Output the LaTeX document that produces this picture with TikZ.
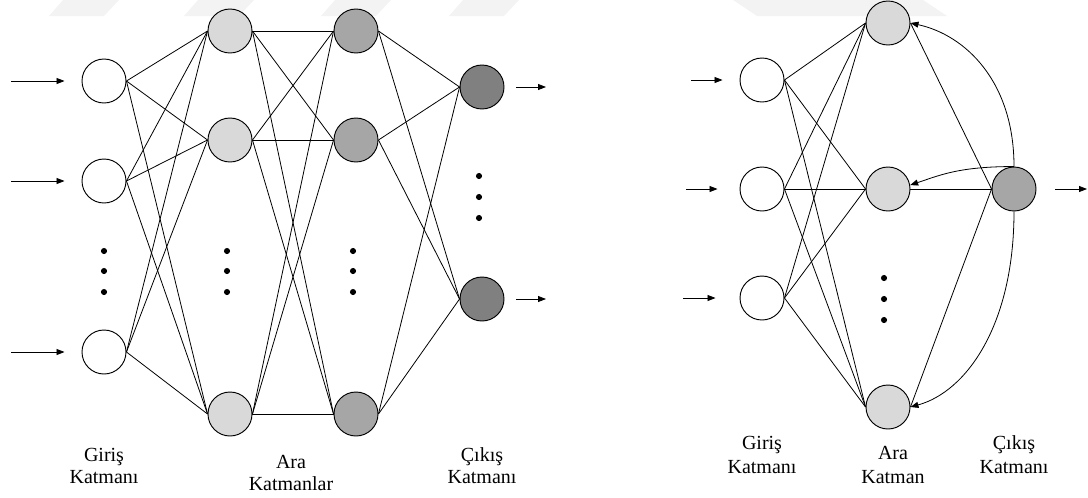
\documentclass[tikz,border=0pt]{standalone}
\usepackage{fontspec}
\setmainfont{Liberation Serif}
\usetikzlibrary{arrows.meta}
\definecolor{hidA}{HTML}{D9D9D9}
\definecolor{hidB}{HTML}{A6A6A6}
\definecolor{outC}{HTML}{808080}
\definecolor{band}{HTML}{F3F3F3}
\begin{document}
\begin{tikzpicture}[x=0.75pt,y=0.75pt,
  neuron/.style={circle,draw=black,line width=0.7pt,minimum size=33pt,inner sep=0pt},
  inp/.style={neuron,fill=white},
  hida/.style={neuron,fill=hidA},
  hidb/.style={neuron,fill=hidB},
  outn/.style={neuron,fill=outC},
  link/.style={line width=0.6pt},
  sig/.style={line width=0.6pt,-{Triangle[length=6pt,width=4.5pt]}},
  lbl/.style={font=\fontsize{15}{16.5}\selectfont,align=center,inner sep=0pt},
  lblr/.style={font=\fontsize{15}{18}\selectfont,align=center,inner sep=0pt},
  blob/.style={fill=black}
]
\useasboundingbox (0,0) rectangle (1088,-497);

% faint slanted bands along the top edge
\foreach \bx in {49,184,321,449}
  \fill[band] (\bx,-16) -- (\bx+55,-16) -- (\bx+70,0) -- (\bx+14,0) -- cycle;
\fill[band] (733,0) -- (923,0) -- (947,-16) -- (757,-16) -- cycle;

% ---------------- multilayer feed-forward network ----------------
\node[inp] (i1) at (104,-81) {};
\node[inp] (i2) at (104,-181) {};
\node[inp] (i3) at (104,-352) {};
\node[hida] (a1) at (230,-31) {};
\node[hida] (a2) at (230,-140) {};
\node[hida] (a3) at (230,-414) {};
\node[hidb] (b1) at (356,-31) {};
\node[hidb] (b2) at (356,-140) {};
\node[hidb] (b3) at (356,-414) {};
\node[outn] (o1) at (482,-87) {};
\node[outn] (o2) at (482,-299) {};

\foreach \s in {i1,i2,i3}
  \foreach \t in {a1,a2,a3}
    \draw[link] (\s.east) -- (\t.west);
\foreach \s in {a1,a2,a3}
  \foreach \t in {b1,b2,b3}
    \draw[link] (\s.east) -- (\t.west);
\foreach \s in {b1,b2,b3}
  \foreach \t in {o1,o2}
    \draw[link] (\s.east) -- (\t.west);

% input and output signals
\coordinate (x1) at (11,-81);
\coordinate (x2) at (11,-181);
\coordinate (x3) at (11,-352);
\draw[sig] (x1) -- ([xshift=-12.75pt]i1.west);
\draw[sig] (x2) -- ([xshift=-12.75pt]i2.west);
\draw[sig] (x3) -- ([xshift=-12.75pt]i3.west);
\coordinate (y1) at (546,-87);
\coordinate (y2) at (546,-299);
\draw[sig] ([xshift=9pt]o1.east) -- (y1);
\draw[sig] ([xshift=9pt]o2.east) -- (y2);

% ellipsis dots
\foreach \cx in {104,227,353}
  \foreach \cy in {251,271,292}
    \fill[blob] (\cx,-\cy) circle (2.3pt);
\foreach \cy in {176,197,218}
  \fill[blob] (479,-\cy) circle (2.3pt);

\node[lbl] (l1) at (104,-466) {Giriş\\Katmanı};
\node[lbl] (l2) at (291,-473) {Ara\\Katmanlar};
\node[lbl] (l3) at (482,-466) {Çıkış\\Katmanı};

% ---------------- recurrent network ----------------
\node[inp] (r1) at (762,-80) {};
\node[inp] (r2) at (762,-189) {};
\node[inp] (r3) at (762,-298) {};
\node[hida] (h1) at (888,-23) {};
\node[hida] (h2) at (888,-189) {};
\node[hida] (h3) at (888,-407) {};
\node[hidb] (ro) at (1014,-189) {};

\foreach \s in {r1,r2,r3}
  \foreach \t in {h1,h2,h3}
    \draw[link] (\s.east) -- (\t.west);
\foreach \s in {h1,h2,h3}
  \draw[link] (\s.east) -- (ro.west);

% feedback from the output back to the hidden layer
\draw[sig] (ro.north) .. controls +(0,85) and +(55,-12) .. (h1.east);
\draw[sig] (ro.north) .. controls +(-55,0) and +(30,10) .. (h2.10);
\draw[sig] (ro.south) .. controls +(0,-115) and +(55,15) .. (h3.east);

\coordinate (u1) at (691,-80);
\coordinate (u2) at (686,-189);
\coordinate (u3) at (683,-298);
\draw[sig] (u1) -- ([xshift=-12.75pt]r1.west);
\draw[sig] (u2) -- ([xshift=-16.5pt]r2.west);
\draw[sig] (u3) -- ([xshift=-18pt]r3.west);
\coordinate (v) at (1087,-189);
\draw[sig] ([xshift=14.25pt]ro.east) -- (v);

\foreach \cy in {278,299,320}
  \fill[blob] (884,-\cy) circle (2.3pt);

\node[lblr] (m1) at (762,-455) {Giriş\\Katmanı};
\node[lblr] (m2) at (893,-465) {Ara\\Katman};
\node[lblr] (m3) at (1014,-455) {Çıkış\\Katmanı};
\end{tikzpicture}
\end{document}
